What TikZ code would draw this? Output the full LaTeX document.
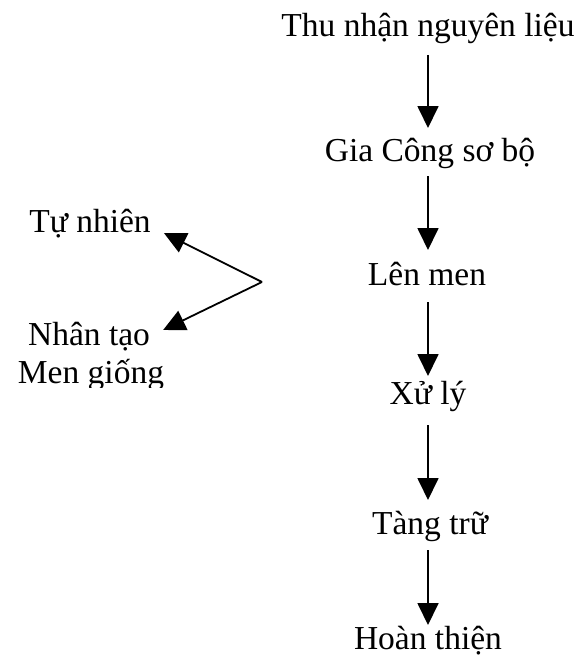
\documentclass[tikz,border=0pt]{standalone}
\usepackage{fontspec}
\setmainfont{Liberation Serif}
\usetikzlibrary{arrows.meta}
\begin{document}
\begin{tikzpicture}[x=1pt,y=-1pt,
  lbl/.style={anchor=base,inner sep=0pt,font=\fontsize{33.5}{40}\selectfont},
  arr/.style={line width=1.8pt,-{Triangle[length=22pt,width=21pt]}}]
\useasboundingbox (0,0) rectangle (582,661);
\node[lbl] (a) at (428,37) {Thu nhận nguyên liệu};
\node[lbl] (b) at (430,161) {Gia Công sơ bộ};
\node[lbl] (c) at (427,285) {Lên men};
\node[lbl] (d) at (428,404) {Xử lý};
\node[lbl] (e) at (430,534) {Tàng trữ};
\node[lbl] (f) at (428,649) {Hoàn thiện};
\foreach \u/\v/\s/\t in {a/b/18/33,b/c/15/35,c/d/17/28,d/e/21/34,e/f/16/24}
  \draw[arr] ([yshift=-\s pt]\u.base -| 428,0) -- ([yshift=\t pt]\v.base -| 428,0);
\node[lbl] (tn) at (90,232) {Tự nhiên};
\node[lbl] (nt) at (89,345) {Nhân tạo};
\begin{scope}
\clip (0,0) rectangle (582,387);
\node[lbl] (mg) at (91,383) {Men giống};
\end{scope}
\coordinate (v) at (262,282);
\draw[arr] (v) -- ([xshift=13pt,yshift=-1pt]tn.base east);
\draw[arr] (v) -- ([xshift=13pt,yshift=15pt]nt.base east);
\end{tikzpicture}
\end{document}
